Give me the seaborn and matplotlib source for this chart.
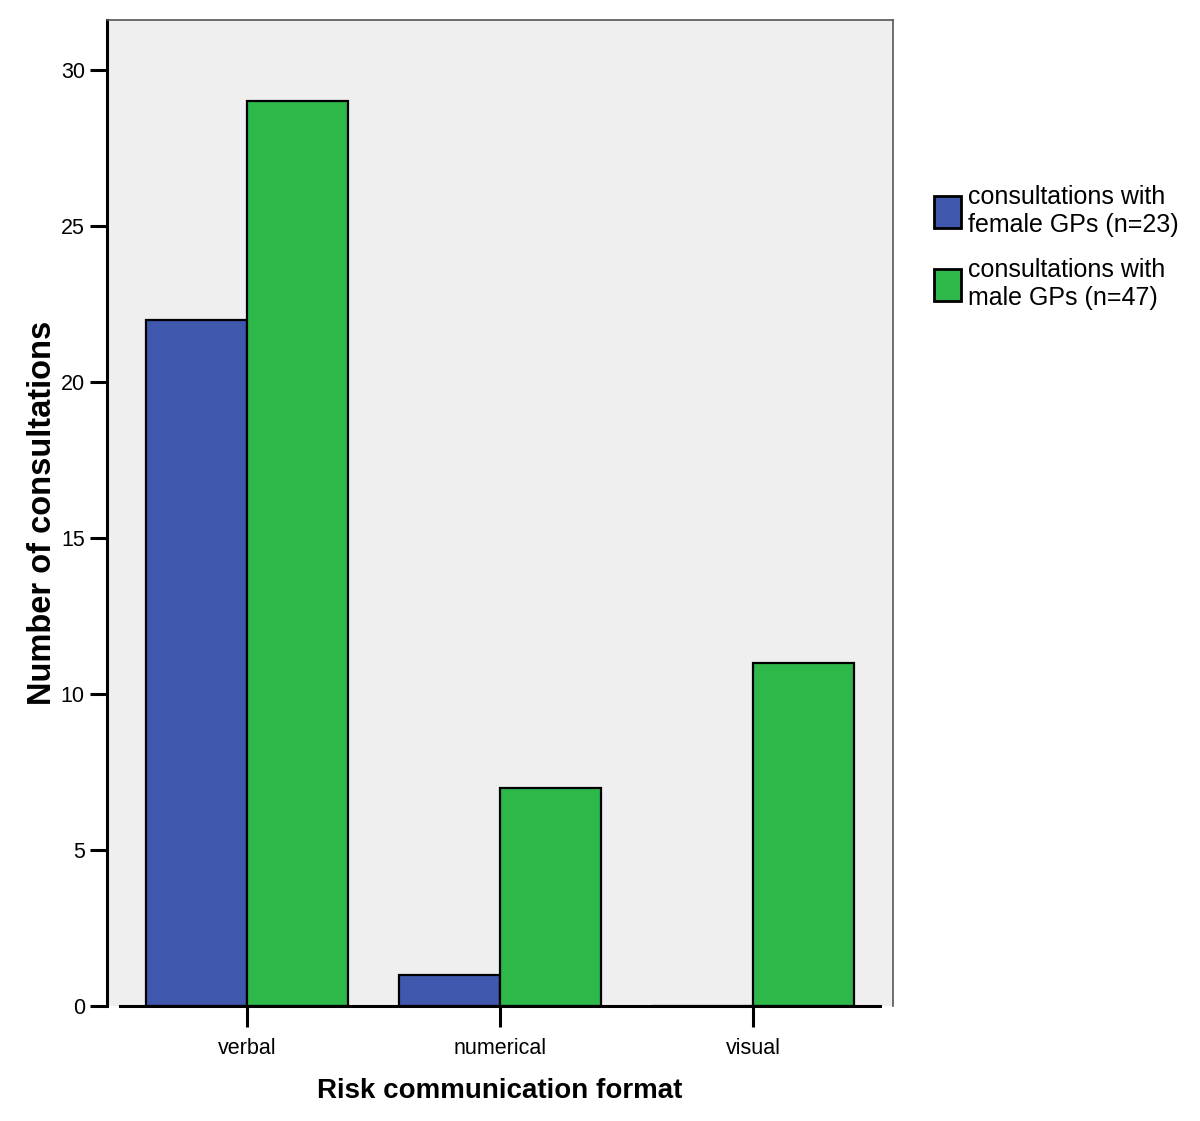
import matplotlib
matplotlib.use("Agg")
import matplotlib.pyplot as plt
import seaborn as sns
import pandas as pd

# data
formats = ["verbal", "numerical", "visual"]
female_counts = [22, 1, 0]
male_counts = [29, 7, 11]
groups = ["consultations with\nfemale GPs (n=23)", "consultations with\nmale GPs (n=47)"]
bar_colors = ["#3f58ad", "#2eb84a"]
y_ticks = [0, 5, 10, 15, 20, 25, 30]

sns.set_theme(style="white")
plt.rcParams["font.family"] = ["Liberation Sans", "DejaVu Sans"]
plt.rcParams["text.color"] = "black"
plt.rcParams["xtick.color"] = "black"
plt.rcParams["ytick.color"] = "black"
plt.rcParams["axes.labelcolor"] = "black"

df = pd.DataFrame({
    "format": formats * 2,
    "count": female_counts + male_counts,
    "group": [groups[0]] * 3 + [groups[1]] * 3,
})

fig = plt.figure(figsize=(12, 11.21), dpi=100)
ax = fig.add_axes([0.0892, 0.1026, 0.6550, 0.8794])
ax.set_facecolor("#efefef")

sns.barplot(data=df, x="format", y="count", hue="group", order=formats,
            hue_order=groups, palette=bar_colors, width=0.8,
            edgecolor="black", linewidth=1.6, saturation=1, ax=ax)

ax.set_xlim(-0.553, 2.553)
ax.set_ylim(0, 31.6)
ax.set_yticks(y_ticks)

# spines like the SPSS frame
for side in ["top", "right"]:
    ax.spines[side].set_color("#555555")
    ax.spines[side].set_linewidth(1.2)
ax.spines["left"].set_color("black")
ax.spines["left"].set_linewidth(2.2)
ax.spines["bottom"].set_color("black")
ax.spines["bottom"].set_linewidth(2.2)
ax.spines["bottom"].set_bounds(-0.5, 2.5)

ax.tick_params(axis="y", direction="out", length=12, width=2.2,
               labelsize=15.5, pad=4, left=True)
ax.tick_params(axis="x", direction="out", length=15, width=2.2,
               labelsize=15.5, pad=8, bottom=True)

ax.set_xlabel("Risk communication format", fontsize=20, fontweight="bold", labelpad=14)
ax.set_ylabel("Number of consultations", fontsize=23.5, fontweight="bold", labelpad=2)

leg = ax.legend(loc="upper left", bbox_to_anchor=(1.04, 0.843), frameon=False,
                fontsize=18, handlelength=1.05, handleheight=1.6,
                handletextpad=0.3, labelspacing=0.85, borderaxespad=0)
for h in leg.legend_handles:
    h.set_edgecolor("black")
    h.set_linewidth(2)
for t in leg.get_texts():
    t.set_linespacing(1.2)

fig.savefig("out.png", dpi=100)
